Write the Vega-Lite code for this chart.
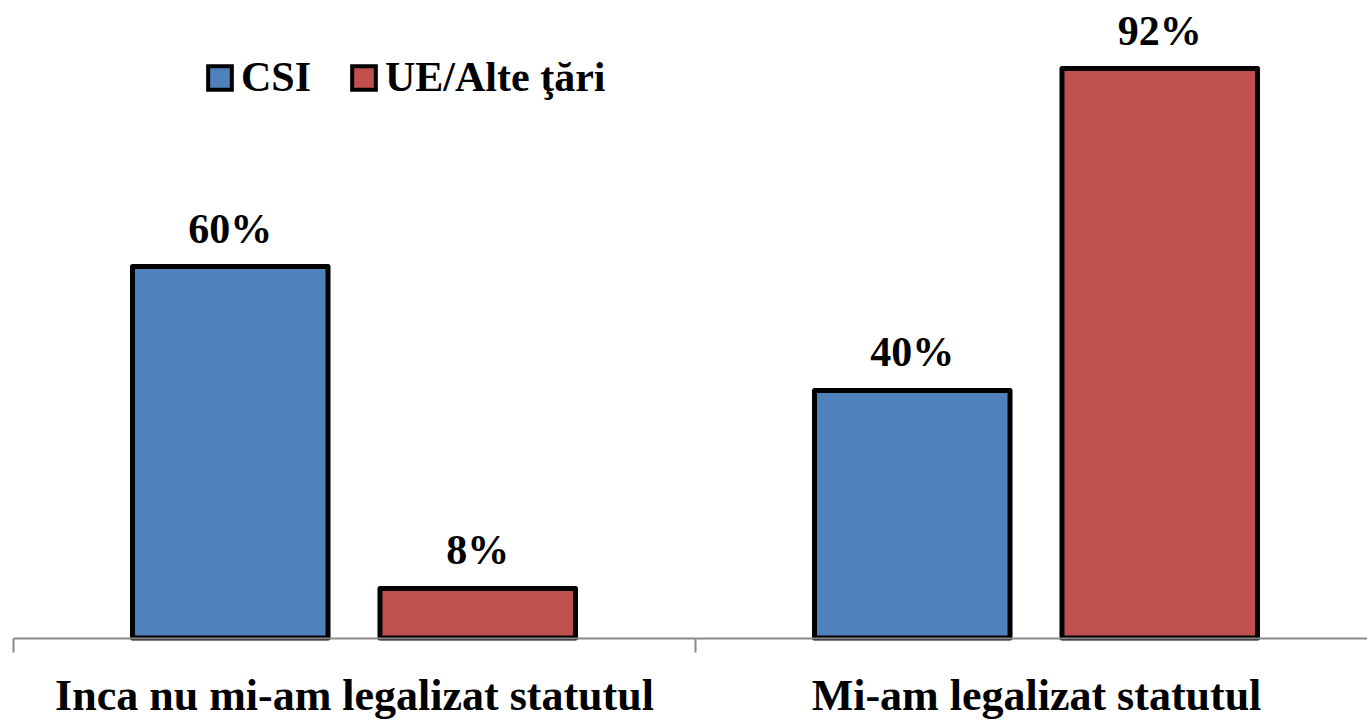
{
  "$schema": "https://vega.github.io/schema/vega-lite/v6.json",
  "width": 1354,
  "height": 619,
  "autosize": {"type": "none"},
  "padding": {"left": 13, "top": 19, "right": 0, "bottom": 82},
  "background": "white",
  "config": {
    "view": {"stroke": null},
    "font": "Liberation Serif"
  },
  "data": {
    "values": [
      {"group": "Inca nu mi-am legalizat statutul", "series": "CSI", "value": 0.60},
      {"group": "Inca nu mi-am legalizat statutul", "series": "UE/Alte ţări", "value": 0.08},
      {"group": "Mi-am legalizat statutul", "series": "CSI", "value": 0.40},
      {"group": "Mi-am legalizat statutul", "series": "UE/Alte ţări", "value": 0.92}
    ]
  },
  "encoding": {
    "x": {
      "field": "group",
      "type": "nominal",
      "sort": ["Inca nu mi-am legalizat statutul", "Mi-am legalizat statutul"],
      "scale": {"paddingInner": 0, "paddingOuter": 0, "range": [0, 1364]},
      "axis": {
        "title": null,
        "labelAngle": 0,
        "tickBand": "extent",
        "domainColor": "#898989",
        "domainWidth": 2,
        "tickColor": "#898989",
        "tickWidth": 2,
        "tickSize": 14,
        "labelFont": "Liberation Serif",
        "labelFontWeight": "bold",
        "labelFontSize": 44,
        "labelColor": "black",
        "labelPadding": 22,
        "labelBaseline": "top",
        "labelLimit": 900,
        "zindex": 1
      }
    },
    "xOffset": {
      "field": "series",
      "type": "nominal",
      "sort": ["CSI", "UE/Alte ţări"],
      "scale": {"paddingInner": 0.21, "paddingOuter": 0.483}
    },
    "y": {
      "field": "value",
      "type": "quantitative",
      "scale": {"domain": [0, 1], "nice": false},
      "axis": null
    }
  },
  "layer": [
    {
      "mark": {"type": "bar", "stroke": "black", "strokeWidth": 5, "strokeJoin": "round"},
      "encoding": {
        "fill": {
          "field": "series",
          "type": "nominal",
          "sort": ["CSI", "UE/Alte ţări"],
          "scale": {"domain": ["CSI", "UE/Alte ţări"], "range": ["#4F81BD", "#C0504D"]},
          "legend": {
            "title": null,
            "orient": "none",
            "legendX": 186,
            "legendY": 38,
            "direction": "horizontal",
            "symbolType": "square",
            "symbolSize": 560,
            "symbolStrokeColor": "black",
            "symbolStrokeWidth": 4,
            "symbolOpacity": 1,
            "labelFont": "Liberation Serif",
            "labelFontWeight": "bold",
            "labelFontSize": 42,
            "labelColor": "black",
            "labelOffset": 0,
            "columnPadding": 31,
            "labelLimit": 400
          }
        }
      }
    },
    {
      "mark": {
        "type": "text",
        "font": "Liberation Serif",
        "fontWeight": "bold",
        "fontSize": 42,
        "baseline": "alphabetic",
        "dy": -24,
        "color": "black"
      },
      "encoding": {
        "text": {"field": "value", "type": "quantitative", "format": ".0%"}
      }
    }
  ]
}
